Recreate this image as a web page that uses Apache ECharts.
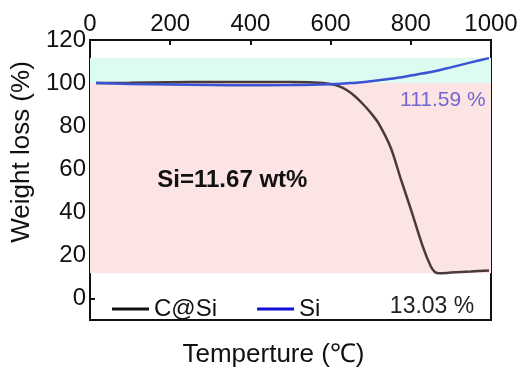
<!DOCTYPE html>
<html>
<head>
<meta charset="utf-8">
<script src="https://cdn.jsdelivr.net/npm/echarts@6/dist/echarts.min.js"></script>
<style>
  html, body { margin: 0; padding: 0; background: #fff; }
  #chart { width: 523px; height: 379px; }
</style>
</head>
<body>
<div id="chart"></div>
<script>
// values
var cSiT = [15, 100, 200, 300, 400, 500, 560, 600, 620, 640, 660, 680, 700, 720, 750, 775, 800, 830, 850, 860, 870, 900, 950, 995];
var cSiW = [100, 100.1, 100.4, 100.5, 100.5, 100.5, 100.3, 99.6, 98.6, 96.8, 94, 90.4, 86.2, 81.2, 70, 55.5, 41.5, 24.1, 14.8, 12.3, 11.67, 12, 12.5, 13.03];
var siT = [15, 100, 200, 300, 400, 500, 600, 650, 700, 750, 800, 850, 900, 950, 995];
var siW = [100, 99.6, 99.3, 99.1, 99, 99.1, 99.5, 100, 100.9, 102, 103.5, 105.1, 107.3, 109.6, 111.59];
var seriesNames = ["C@Si", "Si"];
var bandCyan = [100, 111.59];
var bandPink = [11.67, 100];
var yTicks = [0, 20, 40, 60, 80, 100, 120];
var notes = [
  {name: "Si=11.67 wt%", t: 355, w: 54.7},
  {name: "111.59 %", t: 880, w: 92.2},
  {name: "13.03 %", t: 853, w: -3.7}
];

var font = '"Liberation Sans", Arial, sans-serif';
var chart = echarts.init(document.getElementById("chart"), null, {renderer: "canvas"});

function pairs(xs, ys) {
  return xs.map(function(x, i) { return [x, ys[i]]; });
}

var noteStyles = [
  {fontSize: 24, fontWeight: "bold", color: "#111"},
  {fontSize: 21, color: "#7466d0"},
  {fontSize: 23, color: "#222"}
];

chart.setOption({
  animation: false,
  backgroundColor: "#fff",
  grid: {left: 90, right: 32, top: 40, bottom: 59, show: true, borderColor: "#111", borderWidth: 2, backgroundColor: "#fff"},
  legend: {
    left: 107, top: 292, icon: "rect", itemWidth: 37, itemHeight: 3, itemGap: 40,
    textStyle: {fontFamily: font, fontSize: 24, color: "#111"},
    data: [
      {name: seriesNames[0], itemStyle: {color: "#111"}},
      {name: seriesNames[1], itemStyle: {color: "#1010d8"}}
    ]
  },
  xAxis: [{
    type: "value", position: "top", min: 0, max: 1000, interval: 200,
    axisLine: {show: false, onZero: false}, splitLine: {show: false},
    axisTick: {show: true, inside: true, length: 5, lineStyle: {color: "#111", width: 2}},
    axisLabel: {fontFamily: font, fontSize: 24, color: "#111", margin: 4, formatter: function(v) { return String(v); }}
  }, {
    type: "value", position: "bottom", min: 0, max: 1000,
    axisLine: {show: false, onZero: false}, splitLine: {show: false}, axisTick: {show: false}, axisLabel: {show: false},
    name: "Temperture (\u2103)", nameLocation: "middle", nameGap: 22,
    nameTextStyle: {fontFamily: font, fontSize: 26, color: "#111", padding: [0, 34, 0, 0]}
  }],
  yAxis: {
    type: "value", min: -10, max: 120,
    axisLine: {show: false, onZero: false}, splitLine: {show: false},
    axisTick: {show: true, inside: true, length: 5, customValues: yTicks, lineStyle: {color: "#111", width: 2}},
    axisLabel: {fontFamily: font, fontSize: 24, color: "#111", margin: 4, customValues: yTicks},
    name: "Weight loss (%)", nameLocation: "middle", nameGap: 50,
    nameTextStyle: {fontFamily: font, fontSize: 26, color: "#111", padding: [0, 0, 0, 56]}
  },
  series: [{
    name: seriesNames[0], type: "line", data: pairs(cSiT, cSiW), showSymbol: false, smooth: 0.3,
    lineStyle: {color: "#4a3b3b", width: 2.5}, itemStyle: {color: "#4a3b3b"}, z: 3,
    markArea: {
      silent: true,
      data: [
        [{yAxis: bandCyan[0], itemStyle: {color: "#dcfbf1"}}, {yAxis: bandCyan[1]}],
        [{yAxis: bandPink[0], itemStyle: {color: "#fde4e4"}}, {yAxis: bandPink[1]}]
      ]
    }
  }, {
    name: seriesNames[1], type: "line", data: pairs(siT, siW), showSymbol: false, smooth: 0.3,
    lineStyle: {color: "#3a52d4", width: 2.5}, itemStyle: {color: "#3a52d4"}, z: 4
  }, {
    name: "notes", type: "scatter", symbolSize: 0, silent: true, z: 5,
    itemStyle: {opacity: 1},
    data: notes.map(function(n, i) {
      return {value: [n.t, n.w], label: Object.assign({show: true, position: "inside", formatter: n.name, fontFamily: font, opacity: 1}, noteStyles[i])};
    })
  }]
});
</script>
</body>
</html>
